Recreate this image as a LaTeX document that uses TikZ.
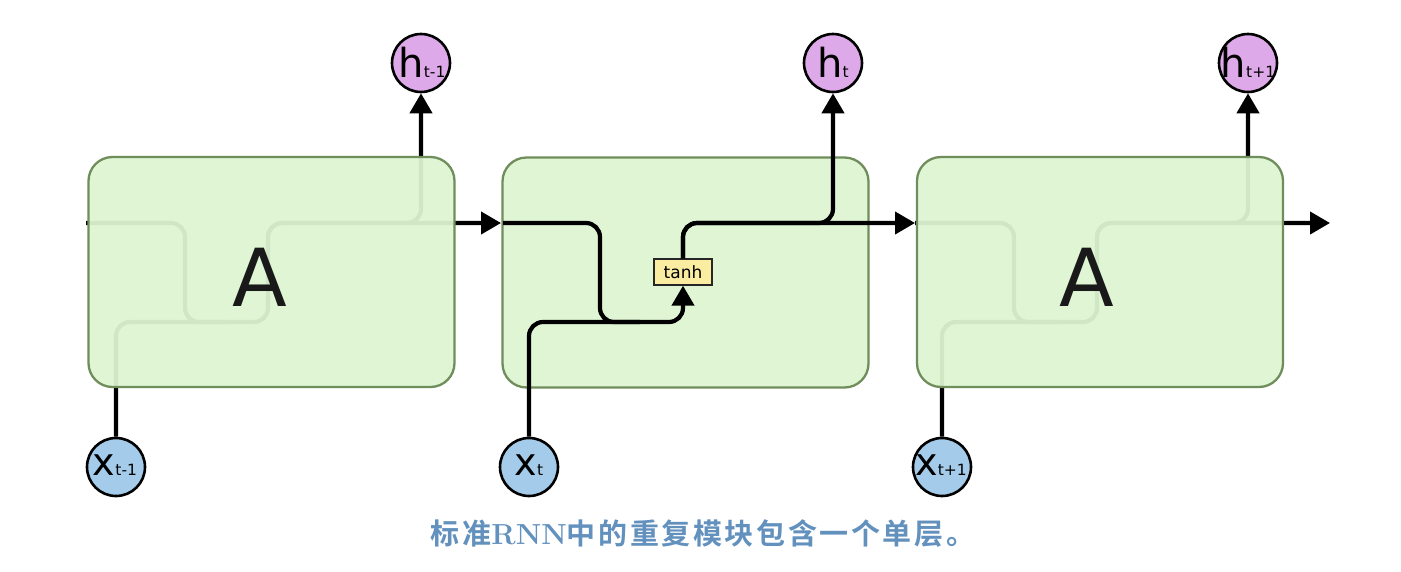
\documentclass[tikz,border=0pt]{standalone}
\usepackage{fontspec}
\usetikzlibrary{arrows.meta}
\newfontfamily\dv{DejaVu Sans}
\newfontfamily\cjkb{Noto Sans CJK SC Bold}[LetterSpace=9]
\definecolor{cellfill}{RGB}{222,245,210}
\definecolor{cellline}{RGB}{112,142,92}
\definecolor{hfill}{RGB}{221,169,232}
\definecolor{xfill}{RGB}{164,204,234}
\definecolor{tanhfill}{RGB}{250,236,160}
\definecolor{capblue}{RGB}{99,145,190}
\newcommand\circlab[3]{{\dv\fontsize{#3}{#3}\selectfont #1}{\dv\fontsize{15.5}{15.5}\selectfont #2}}
\tikzset{
  cell/.style={draw=cellline, line width=2.3pt, fill=cellfill, fill opacity=0.94,
    rounded corners=24pt, minimum width=366pt, minimum height=230pt, inner sep=0pt},
  wire/.style={line width=4.2pt, rounded corners=14pt},
  arr/.style={wire, -{Triangle[length=20pt,width=22pt]}},
  hcirc/.style={circle, draw=black, line width=2.6pt, fill=hfill, minimum size=58pt, inner sep=0pt},
  xcirc/.style={circle, draw=black, line width=2.6pt, fill=xfill, minimum size=58pt, inner sep=0pt},
  bigA/.style={font=\dv\fontsize{80}{80}\selectfont, text=black!90},
  lab/.style={anchor=base, inner sep=0pt},
}
\begin{document}
\begin{tikzpicture}[x=1pt,y=-1pt]
\useasboundingbox (0,0) rectangle (1401,571);
\fill[white] (0,0) rectangle (1401,571);

% coordinates of the three cells' wiring
\coordinate (in1) at (86,223);
\coordinate (in3) at (915,223);
\coordinate (out1) at (501,223);
\coordinate (out3) at (1330,223);

% circles
\node[hcirc] (h1) at (421,63) {};
\node[hcirc] (h2) at (833,63) {};
\node[hcirc] (h3) at (1248,63) {};
\node[xcirc] (x1) at (116,467) {};
\node[xcirc] (x2) at (529,467) {};
\node[xcirc] (x3) at (942,467) {};

% wiring under cell 1 and cell 3 (seen faded through the cells)
\draw[wire] (in1) -- (185,223) -- (185,322) -- (230,322);
\draw[arr] (x1.north) -- (116,322) -- (268,322) -- (268,223) -- (421,223) -- (h1.south);
\draw[arr] (268,250) -- (268,223) -- (out1);

\draw[wire] (in3) -- (1014,223) -- (1014,322) -- (1060,322);
\draw[arr] (x3.north) -- (942,322) -- (1097,322) -- (1097,223) -- (1248,223) -- (h3.south);
\draw[arr] (1097,250) -- (1097,223) -- (out3);

% cells
\node[cell] (c1) at (271.5,272) {};
\node[cell] (c2) at (685.5,272.5) {};
\node[cell] (c3) at (1100,272) {};

\node[bigA] (A1) at (260,277) {A};
\node[bigA] (A3) at (1087,277) {A};

% middle cell wiring
\node[draw=black!85, line width=1.3pt, fill=tanhfill, minimum width=58pt, minimum height=26pt,
      inner sep=0pt, font=\dv\fontsize{17}{17}\selectfont] (t2) at (683,272) {tanh};
\coordinate (in2) at (503,223);
\draw[wire] (in2) -- (600,223) -- (600,322) -- (640,322);
\draw[arr] (x2.north) -- (529,322) -- (683,322) -- (t2.south);
\draw[arr] (t2.north) -- (683,223) -- (833,223) -- (h2.south);
\draw[arr] (t2.north) -- (683,223) -- (in3);

% circle labels
\node[lab] (lh1) at (422,77) {\circlab{h}{t-1}{40}};
\node[lab] (lh2) at (833,77) {\circlab{h}{t}{40}};
\node[lab] (lh3) at (1248,77) {\circlab{h}{t+1}{40}};
\node[lab] (lx1) at (115,475) {\circlab{x}{t-1}{38}};
\node[lab] (lx2) at (529,475) {\circlab{x}{t}{38}};
\node[lab] (lx3) at (941,475) {\circlab{x}{t+1}{38}};

% caption
\node[text=capblue, inner sep=0pt] (cap) at (703,534)
  {\cjkb\fontsize{29}{29}\selectfont 标准{\rmfamily\bfseries\fontsize{29}{29}\selectfont RNN}中的重复模块包含一个单层。};
\end{tikzpicture}
\end{document}
